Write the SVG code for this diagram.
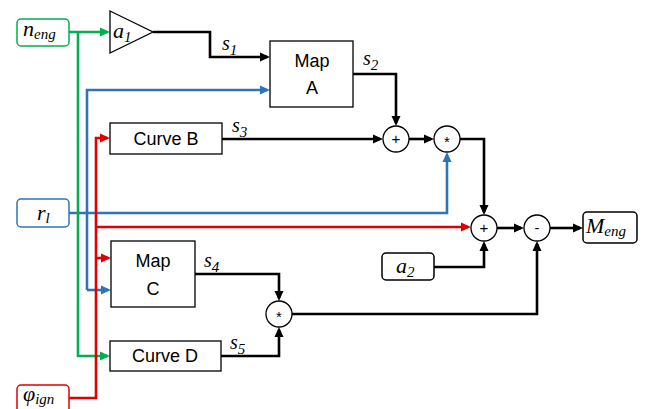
<svg xmlns="http://www.w3.org/2000/svg" width="646" height="409" viewBox="0 0 646 409">
<defs>
<style>
.bx{fill:#fff;stroke:#000;stroke-width:1.3}
.rb{fill:#fff;stroke-width:1.5}
.c{fill:none;stroke-width:2.6;stroke-linejoin:miter}
.k{stroke:#000}.g{stroke:#00b050}.b{stroke:#2e75b6}.r{stroke:#e00000}
.t{font-family:"Liberation Sans",Arial,sans-serif;font-size:18px;fill:#000;text-anchor:middle}
.m{font-family:"Liberation Serif","Times New Roman",serif;font-style:italic;font-size:22px;fill:#000}
.sub{font-size:15px}
.op{font-family:"Liberation Sans",Arial,sans-serif;font-size:15px;fill:#000;text-anchor:middle}
.st{font-size:20px}
</style>
<marker id="ak" markerUnits="userSpaceOnUse" markerWidth="11" markerHeight="10" refX="7" refY="5" orient="auto"><path d="M0,0.5 L10,5 L0,9.5 z" fill="#000"/></marker>
<marker id="ag" markerUnits="userSpaceOnUse" markerWidth="11" markerHeight="10" refX="7" refY="5" orient="auto"><path d="M0,0.5 L10,5 L0,9.5 z" fill="#00b050"/></marker>
<marker id="ab" markerUnits="userSpaceOnUse" markerWidth="11" markerHeight="10" refX="7" refY="5" orient="auto"><path d="M0,0.5 L10,5 L0,9.5 z" fill="#2e75b6"/></marker>
<marker id="ar" markerUnits="userSpaceOnUse" markerWidth="11" markerHeight="10" refX="7" refY="5" orient="auto"><path d="M0,0.5 L10,5 L0,9.5 z" fill="#e00000"/></marker>
</defs>
<rect width="646" height="409" fill="#fff"/>

<g id="connectors">
<path class="c b" d="M69,213 H447 V155" marker-end="url(#ab)"/>
<path class="c b" d="M87,290 V90 H267" marker-end="url(#ab)"/>
<path class="c b" d="M87,290 H108" marker-end="url(#ab)"/>
<path class="c g" d="M69,32 H107" marker-end="url(#ag)"/>
<path class="c g" d="M78,32 V356 H107" marker-end="url(#ag)"/>
<path class="c r" d="M69,398 H96 V138 H107" marker-end="url(#ar)"/>
<path class="c r" d="M96,258 H108" marker-end="url(#ar)"/>
<path class="c r" d="M96,227 H468" marker-end="url(#ar)"/>
<path class="c k" d="M153,32 H210 V57 H267" marker-end="url(#ak)"/>
<path class="c k" d="M353,74 H396 V123" marker-end="url(#ak)"/>
<path class="c k" d="M222,139 H380" marker-end="url(#ak)"/>
<path class="c k" d="M409,139 H431" marker-end="url(#ak)"/>
<path class="c k" d="M460,139 H484 V212" marker-end="url(#ak)"/>
<path class="c k" d="M434,267 H484 V244" marker-end="url(#ak)"/>
<path class="c k" d="M497,228 H521" marker-end="url(#ak)"/>
<path class="c k" d="M550,228 H580" marker-end="url(#ak)"/>
<path class="c k" d="M195,274 H279 V298" marker-end="url(#ak)"/>
<path class="c k" d="M221,356 H279 V330" marker-end="url(#ak)"/>
<path class="c k" d="M292,314 H537 V244" marker-end="url(#ak)"/>
<text class="m st" x="222" y="50">s<tspan class="sub" dy="5">1</tspan></text>
<text class="m st" x="363" y="65">s<tspan class="sub" dy="5">2</tspan></text>
<text class="m st" x="232" y="132">s<tspan class="sub" dy="5">3</tspan></text>
<text class="m st" x="204" y="267">s<tspan class="sub" dy="5">4</tspan></text>
<text class="m st" x="230" y="349">s<tspan class="sub" dy="5">5</tspan></text>
</g>

<g id="n_eng"><rect class="rb" x="17" y="19" width="52" height="27" rx="4" stroke="#00b050"/><text class="m" x="23" y="36">n<tspan class="sub" dy="3">eng</tspan></text></g>
<g id="r_l"><rect class="rb" x="17" y="199" width="52" height="28" rx="4" stroke="#2e75b6"/><text class="m" x="37" y="220">r<tspan class="sub" dy="3">l</tspan></text></g>
<g id="phi_ign"><rect class="rb" x="17" y="385" width="52" height="30" rx="4" stroke="#e00000"/><text class="m" x="23" y="401">φ<tspan class="sub" dy="3">ign</tspan></text></g>
<g id="a1"><path class="bx" d="M110,11 L153,32 L110,53 z"/><text class="m" x="113" y="38">a<tspan class="sub" dy="4">1</tspan></text></g>
<g id="mapA"><rect class="bx" x="270" y="41" width="83" height="66"/><text class="t" x="312" y="67">Map</text><text class="t" x="312" y="94">A</text></g>
<g id="curveB"><rect class="bx" x="110" y="123" width="112" height="31"/><text class="t" x="166" y="145">Curve B</text></g>
<g id="mapC"><rect class="bx" x="111" y="241" width="84" height="66"/><text class="t" x="153" y="267">Map</text><text class="t" x="153" y="295">C</text></g>
<g id="curveD"><rect class="bx" x="110" y="341" width="111" height="30"/><text class="t" x="165" y="362">Curve D</text></g>
<g id="sum1"><circle class="bx" cx="396" cy="139" r="13"/><text class="op" x="396" y="144">+</text></g>
<g id="mul1"><circle class="bx" cx="447" cy="139" r="13"/><text class="op" x="447" y="147" font-size="18">*</text></g>
<g id="sum2"><circle class="bx" cx="484" cy="228" r="13"/><text class="op" x="484" y="233">+</text></g>
<g id="sub1"><circle class="bx" cx="537" cy="228" r="13"/><text class="op" x="537" y="233">-</text></g>
<g id="mul2"><circle class="bx" cx="279" cy="314" r="13"/><text class="op" x="279" y="322" font-size="18">*</text></g>
<g id="a2"><rect class="rb" x="382" y="253" width="52" height="27" rx="4" stroke="#000"/><text class="m" x="396" y="273">a<tspan class="sub" dy="4">2</tspan></text></g>
<g id="M_eng"><rect class="rb" x="583" y="212" width="54" height="31" rx="4" stroke="#000"/><text class="m" x="586" y="233">M<tspan class="sub" dy="3">eng</tspan></text></g>
</svg>
